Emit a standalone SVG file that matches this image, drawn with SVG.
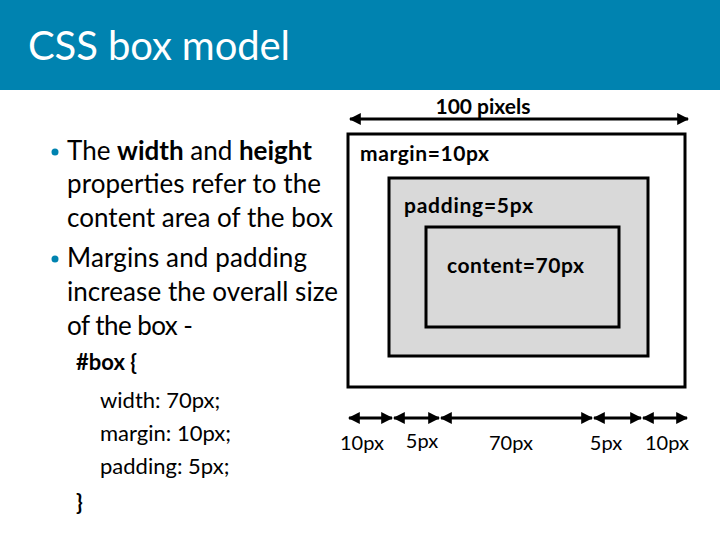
<svg xmlns="http://www.w3.org/2000/svg" width="720" height="540" viewBox="0 0 720 540">
<style>
.t{font-family:Lato,"Open Sans","Liberation Sans",sans-serif;fill:#000}
.b{font-weight:bold}
.body{font-size:26px}
.code{font-size:22px}
.lbl{font-size:21px}
.dim{font-size:20px}
.box{stroke:#000;stroke-width:3}
.arr{stroke:#000;stroke-width:3;fill:none;marker-start:url(#ah);marker-end:url(#ah)}
</style>
<defs>
<marker id="ah" viewBox="0 0 10 10" refX="9" refY="5" markerWidth="4" markerHeight="4" orient="auto-start-reverse" markerUnits="strokeWidth">
<path d="M0,0 L10,5 L0,10 z" fill="#000"/>
</marker>
</defs>
<rect x="0" y="0" width="720" height="90" fill="#0083b0"/>
<text x="28" y="60" font-family="Lato,'Open Sans',sans-serif" font-size="40" fill="#fff" textLength="262">CSS box model</text>
<g id="bullets">
<circle cx="55" cy="152" r="3.5" fill="#0083b0"/>
<circle cx="55" cy="259" r="3.5" fill="#0083b0"/>
<text class="t body" x="67" y="160" textLength="245">The <tspan class="b">width</tspan> and <tspan class="b">height</tspan></text>
<text class="t body" x="67" y="193" textLength="254">properties refer to the</text>
<text class="t body" x="67" y="227" textLength="266">content area of the box</text>
<text class="t body" x="67" y="267" textLength="240">Margins and padding</text>
<text class="t body" x="67" y="301" textLength="271">increase the overall size</text>
<text class="t body" x="67" y="335" textLength="126">of the box -</text>
</g>
<g id="code">
<text class="t code b" x="76" y="370">#box {</text>
<text class="t code" x="100" y="408">width: 70px;</text>
<text class="t code" x="100" y="441">margin: 10px;</text>
<text class="t code" x="100" y="474">padding: 5px;</text>
<text class="t code b" x="76" y="510">}</text>
</g>
<g id="margin-box">
<rect class="box" x="348" y="134" width="337" height="253" fill="#fff"/>
<text class="t lbl b" x="360" y="161" textLength="129">margin=10px</text>
</g>
<g id="padding-box">
<rect class="box" x="389" y="178" width="259" height="178" fill="#d9d9d9"/>
<text class="t lbl b" x="404" y="213" textLength="129">padding=5px</text>
</g>
<g id="content-box">
<rect class="box" x="426" y="227" width="193" height="100" fill="#d9d9d9"/>
<text class="t lbl b" x="447" y="273" textLength="137">content=70px</text>
</g>
<g id="connectors">
<line class="arr" x1="350" y1="119" x2="688" y2="119"/>
<line class="arr" x1="349" y1="418" x2="392" y2="418"/>
<line class="arr" x1="394" y1="418" x2="439" y2="418"/>
<line class="arr" x1="441" y1="418" x2="592" y2="418"/>
<line class="arr" x1="594" y1="418" x2="641" y2="418"/>
<line class="arr" x1="643" y1="418" x2="687" y2="418"/>
</g>
<g id="labels">
<text class="t lbl b" x="483" y="114" text-anchor="middle">100 pixels</text>
<text class="t dim" x="362" y="450" text-anchor="middle">10px</text>
<text class="t dim" x="422" y="448" text-anchor="middle">5px</text>
<text class="t dim" x="511" y="450" text-anchor="middle">70px</text>
<text class="t dim" x="606" y="450" text-anchor="middle">5px</text>
<text class="t dim" x="667" y="450" text-anchor="middle">10px</text>
</g>
</svg>
